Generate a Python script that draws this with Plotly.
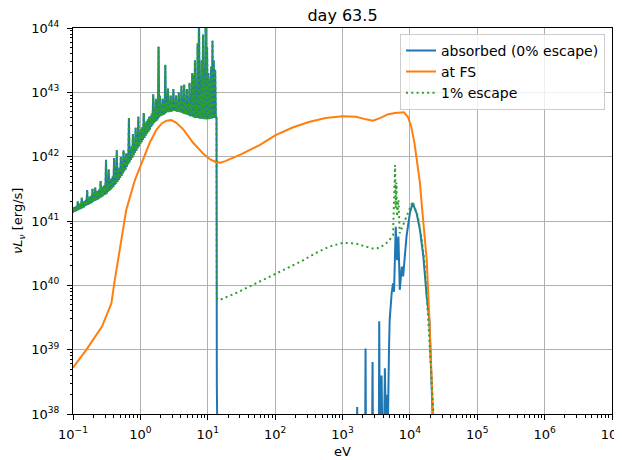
import plotly.graph_objects as go

# ---------------- data ----------------
# values are stored as log10(energy / eV) and log10(nu L_nu / erg s^-1)

# thermal / line part below 13.6 eV (shared by "absorbed" and "1% escape")
low_log_e = [
    -1.00, -0.99, -0.98, -0.97, -0.96, -0.95, -0.94, -0.93, -0.92, -0.91,
    -0.90, -0.89, -0.88, -0.87, -0.86, -0.85, -0.84, -0.83, -0.82, -0.81,
    -0.80, -0.79, -0.78, -0.77, -0.76, -0.75, -0.74, -0.73, -0.72, -0.71,
    -0.70, -0.69, -0.68, -0.67, -0.66, -0.65, -0.64, -0.63, -0.62, -0.61,
    -0.60, -0.59, -0.58, -0.57, -0.56, -0.55, -0.54, -0.53, -0.52, -0.51,
    -0.50, -0.49, -0.48, -0.47, -0.46, -0.45, -0.44, -0.43, -0.42, -0.41,
    -0.40, -0.39, -0.38, -0.37, -0.36, -0.35, -0.34, -0.33, -0.32, -0.31,
    -0.30, -0.29, -0.28, -0.27, -0.26, -0.25, -0.24, -0.23, -0.22, -0.21,
    -0.20, -0.19, -0.18, -0.17, -0.16, -0.15, -0.14, -0.13, -0.12, -0.11,
    -0.10, -0.09, -0.08, -0.07, -0.06, -0.05, -0.04, -0.03, -0.02, -0.01,
    0.00, 0.01, 0.02, 0.03, 0.04, 0.05, 0.06, 0.07, 0.08, 0.09,
    0.10, 0.11, 0.12, 0.13, 0.14, 0.15, 0.16, 0.17, 0.18, 0.19,
    0.20, 0.21, 0.22, 0.23, 0.24, 0.25, 0.26, 0.27, 0.28, 0.29,
    0.30, 0.31, 0.32, 0.33, 0.34, 0.35, 0.36, 0.37, 0.38, 0.39,
    0.40, 0.41, 0.42, 0.43, 0.44, 0.45, 0.46, 0.47, 0.48, 0.49,
    0.50, 0.51, 0.52, 0.53, 0.54, 0.55, 0.56, 0.57, 0.58, 0.59,
    0.60, 0.61, 0.62, 0.63, 0.64, 0.65, 0.66, 0.67, 0.68, 0.69,
    0.70, 0.71, 0.72, 0.73, 0.74, 0.75, 0.76, 0.77, 0.78, 0.79,
    0.80, 0.81, 0.82, 0.83, 0.84, 0.85, 0.86, 0.87, 0.88, 0.89,
    0.90, 0.91, 0.92, 0.93, 0.94, 0.95, 0.96, 0.97, 0.98, 0.99,
    1.00, 1.01, 1.02, 1.03, 1.04, 1.05, 1.06, 1.07, 1.08, 1.09,
    1.10, 1.11, 1.12, 1.13,
]
low_log_l = [
    41.13, 41.21, 41.14, 41.22, 41.15, 41.23, 41.16, 41.30, 41.17, 41.25,
    41.18, 41.28, 41.19, 41.36, 41.20, 41.30, 41.21, 41.31, 41.23, 41.33,
    41.24, 41.48, 41.25, 41.36, 41.26, 41.38, 41.27, 41.39, 41.28, 41.50,
    41.30, 41.43, 41.31, 41.52, 41.32, 41.46, 41.33, 41.47, 41.34, 41.49,
    41.36, 41.62, 41.37, 41.53, 41.38, 41.54, 41.40, 41.56, 41.41, 41.95,
    41.43, 41.60, 41.45, 41.80, 41.47, 41.64, 41.49, 41.66, 41.51, 41.69,
    41.53, 41.98, 41.56, 41.74, 41.58, 42.10, 41.61, 41.80, 41.64, 41.83,
    41.67, 42.00, 41.70, 41.89, 41.74, 42.10, 41.77, 41.97, 41.80, 42.05,
    41.84, 42.05, 41.88, 42.60, 41.91, 42.12, 41.95, 42.16, 41.98, 42.35,
    42.02, 42.24, 42.06, 42.45, 42.09, 42.31, 42.13, 42.62, 42.16, 42.39,
    42.20, 42.43, 42.23, 42.46, 42.26, 42.68, 42.29, 42.51, 42.33, 42.55,
    42.36, 42.58, 42.39, 42.62, 42.42, 42.63, 42.46, 42.67, 42.49, 42.97,
    42.52, 42.72, 42.54, 42.90, 42.56, 42.76, 42.58, 43.71, 42.61, 42.95,
    42.63, 42.81, 42.64, 42.90, 42.65, 42.83, 42.66, 43.43, 42.68, 42.85,
    42.69, 43.06, 42.69, 42.86, 42.70, 42.95, 42.70, 42.87, 42.71, 43.05,
    42.71, 42.88, 42.71, 42.95, 42.70, 42.87, 42.70, 43.00, 42.69, 42.86,
    42.69, 43.10, 42.68, 42.85, 42.67, 43.12, 42.66, 42.83, 42.66, 43.05,
    42.65, 42.83, 42.64, 43.15, 42.63, 42.82, 42.63, 43.30, 42.62, 43.27,
    42.61, 43.50, 42.60, 42.81, 42.60, 43.76, 42.60, 44.30, 42.59, 43.00,
    42.59, 43.50, 42.59, 43.90, 42.58, 43.20, 42.58, 44.30, 42.58, 43.70,
    42.58, 43.30, 42.58, 43.20, 42.59, 43.40, 42.59, 43.80, 42.60, 43.50,
    42.60, 43.35, 42.61, 42.62,
]

# absorbed (0% escape) above 13.6 eV: cut-off and the X-ray part
abs_hi_log_e = [
    1.135, 1.16, 3.20, 3.218, 3.23, 3.33, 3.342, 3.355, 3.43, 3.446,
    3.46, 3.535, 3.545, 3.555, 3.57, 3.58, 3.59, 3.62, 3.629, 3.64,
    3.66, 3.675, 3.69, 3.70, 3.73, 3.75, 3.765, 3.78, 3.79, 3.81,
    3.83, 3.85, 3.88, 3.90, 3.95, 4.00, 4.04, 4.10, 4.15, 4.20,
    4.25, 4.29, 4.35, 4.40,
]
abs_hi_log_l = [
    38.42, 36.00, 36.00, 38.11, 36.00, 36.00, 39.02, 36.00, 36.00, 38.81,
    36.00, 36.00, 39.44, 37.50, 37.80, 38.60, 37.80, 37.90, 38.71, 38.00,
    38.30, 37.90, 39.00, 39.46, 39.88, 40.03, 39.90, 40.60, 40.91, 40.39,
    40.76, 39.93, 40.29, 40.14, 40.76, 41.12, 41.28, 41.12, 40.86, 40.45,
    39.82, 39.46, 38.00, 36.00,
]

# 1% escape above 13.6 eV
esc_hi_log_e = [
    1.135, 1.17, 1.40, 1.60, 1.80, 2.00, 2.20, 2.40, 2.60, 2.80,
    3.00, 3.20, 3.35, 3.46, 3.55, 3.68, 3.75, 3.78, 3.79, 3.80,
    3.81, 3.83, 3.85, 3.90, 3.95, 4.04, 4.12, 4.17, 4.22, 4.27,
    4.35, 4.40,
]
esc_hi_log_l = [
    39.80, 39.77, 39.87, 39.97, 40.07, 40.17, 40.27, 40.38, 40.50, 40.60,
    40.66, 40.65, 40.60, 40.57, 40.58, 40.68, 40.78, 41.87, 41.20, 41.60,
    41.07, 41.33, 40.81, 40.95, 41.07, 41.30, 41.07, 40.76, 40.34, 39.51,
    38.00, 36.00,
]

# at FS (forward shock)
fs_log_e = [
    -1.00, -0.80, -0.57, -0.43, -0.38, -0.30, -0.21, -0.08, 0.04, 0.14,
    0.24, 0.32, 0.39, 0.46, 0.53, 0.64, 0.78, 0.93, 1.03, 1.13,
    1.20, 1.26, 1.50, 1.77, 2.00, 2.25, 2.50, 2.75, 3.00, 3.20,
    3.35, 3.45, 3.555, 3.68, 3.78, 3.91, 3.97, 4.02, 4.07, 4.10,
    4.15, 4.17, 4.20, 4.25, 4.29, 4.35, 4.38,
]
fs_log_l = [
    38.72, 39.00, 39.36, 39.72, 40.08, 40.60, 41.17, 41.64, 41.95, 42.22,
    42.42, 42.52, 42.56, 42.57, 42.53, 42.42, 42.22, 42.05, 41.96, 41.91,
    41.91, 41.93, 42.04, 42.18, 42.33, 42.45, 42.54, 42.60, 42.63, 42.62,
    42.58, 42.56, 42.60, 42.66, 42.68, 42.69, 42.62, 42.47, 42.20, 41.98,
    41.59, 41.33, 41.02, 40.40, 39.46, 38.00, 37.00,
]

series_names = ["absorbed (0% escape)", "at FS", "1% escape"]
title_text = "day 63.5"
x_title = "eV"
y_title = "<i>\u03bdL</i><sub><i>\u03bd</i></sub> [erg/s]"
x_tick_exps = [-1, 0, 1, 2, 3, 4, 5, 6, 7]
y_tick_exps = [38, 39, 40, 41, 42, 43, 44]


def tolin(vals):
    return [10.0 ** v for v in vals]


def sup_label(p):
    s = str(p).replace("-", "\u2212")
    return "10<sup>" + s + "</sup>"


abs_e = tolin(low_log_e + abs_hi_log_e)
abs_l = tolin(low_log_l + abs_hi_log_l)
esc_e = tolin(low_log_e + esc_hi_log_e)
esc_l = tolin(low_log_l + esc_hi_log_l)
fs_e = tolin(fs_log_e)
fs_l = tolin(fs_log_l)

fig = go.Figure()
fig.add_trace(go.Scatter(x=abs_e, y=abs_l, mode="lines", name=series_names[0],
                         line=dict(color="#1f77b4", width=2)))
fig.add_trace(go.Scatter(x=fs_e, y=fs_l, mode="lines", name=series_names[1],
                         line=dict(color="#ff7f0e", width=2)))
fig.add_trace(go.Scatter(x=esc_e, y=esc_l, mode="lines", name=series_names[2],
                         line=dict(color="#2ca02c", width=2, dash="2px,3.3px")))

font = "DejaVu Sans, sans-serif"
axis_common = dict(
    type="log",
    automargin=False,
    showline=True, linecolor="black", linewidth=1, mirror=True,
    ticks="outside", ticklen=5, tickcolor="black", tickwidth=1,
    showgrid=True, gridcolor="#b0b0b0", gridwidth=1,
    zeroline=False,
    ticklabeloverflow="allow",
    tickfont=dict(family=font, size=13, color="black"),
    minor=dict(ticks="outside", ticklen=2.5, tickcolor="black",
               dtick="D1", showgrid=False),
)

fig.update_xaxes(
    **axis_common,
    range=[-1, 7],
    tickmode="array",
    tickvals=[10.0 ** p for p in x_tick_exps],
    ticktext=[sup_label(p) for p in x_tick_exps],
    ticklabelstandoff=3,
)
fig.update_yaxes(
    **axis_common,
    range=[38, 44],
    tickmode="array",
    tickvals=[10.0 ** p for p in y_tick_exps],
    ticktext=[sup_label(p) for p in y_tick_exps],
    ticklabelstandoff=5,
)

# the page body adds an 8 px offset, so the figure is 8 px smaller
fig.update_layout(
    width=614, height=452,
    margin=dict(l=65, r=10, t=20, b=46),
    paper_bgcolor="white", plot_bgcolor="white",
    font=dict(family=font, size=13, color="black"),
    title=dict(text=title_text, x=0.5, xref="paper", y=0.995, yref="container",
               xanchor="center", yanchor="top", pad=dict(t=0, b=0),
               font=dict(family=font, size=16, color="black")),
    legend=dict(x=0.987, y=0.985, xanchor="right", yanchor="top",
                bgcolor="rgba(255,255,255,0.8)", bordercolor="#cccccc",
                borderwidth=1, font=dict(family=font, size=14, color="black"),
                tracegroupgap=2),
    showlegend=True,
    annotations=[
        dict(text=x_title, xref="paper", yref="paper", x=0.5, y=-0.098,
             xanchor="center", yanchor="middle", showarrow=False,
             font=dict(family=font, size=13, color="black")),
        dict(text=y_title, xref="paper", yref="paper", x=-0.102, y=0.5,
             xanchor="center", yanchor="middle", showarrow=False,
             textangle=-90, font=dict(family=font, size=13, color="black")),
    ],
)

fig.write_html("out.html")
